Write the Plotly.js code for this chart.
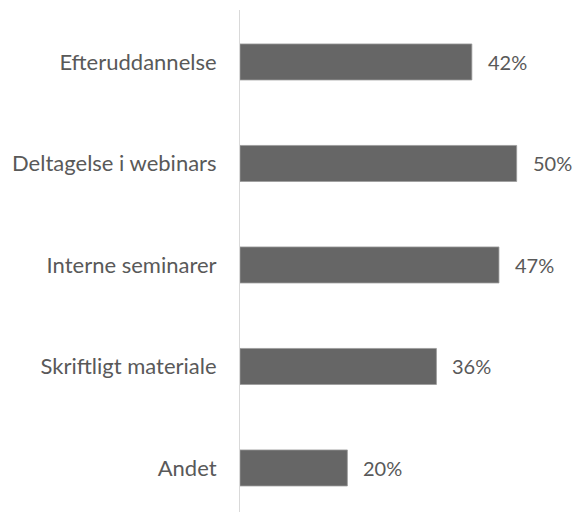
<!DOCTYPE html>
<html>
<head>
<meta charset="utf-8">
<script src="https://cdn.plot.ly/plotly-3.0.1.min.js"></script>
<style>html,body{margin:0;padding:0;background:#fff;}#chart{width:578px;height:512px;}</style>
</head>
<body>
<div id="chart"></div>
<script>
var categories = ["Efteruddannelse", "Deltagelse i webinars", "Interne seminarer", "Skriftligt materiale", "Andet"];
var values = [0.419, 0.50, 0.468, 0.355, 0.194];
var valueLabels = ["42%", "50%", "47%", "36%", "20%"];

var FONT = "Lato, 'Open Sans', sans-serif";
var TXT = "#595959";

var trace = {
  type: "bar",
  orientation: "h",
  y: categories,
  x: values,
  width: 0.355,
  marker: {color: "#666666", line: {color: "#9a9a9a", width: 0.8}},
  hoverinfo: "none"
};

var annotations = categories.map(function (c, i) {
  return {
    x: values[i], y: c, xref: "x", yref: "y",
    text: valueLabels[i], showarrow: false,
    xanchor: "left", yanchor: "middle", xshift: 14,
    font: {family: FONT, size: 20, color: TXT}
  };
});

var layout = {
  width: 578, height: 512,
  margin: {l: 240, r: 6, t: 10, b: 0, pad: 0},
  paper_bgcolor: "#fff", plot_bgcolor: "#fff",
  showlegend: false,
  xaxis: {range: [0, 0.6], visible: false, fixedrange: true},
  yaxis: {
    type: "category",
    range: [4.434, -0.512],
    showline: true, linecolor: "#d9d9d9", linewidth: 1,
    showgrid: false, zeroline: false,
    ticks: "outside", ticklen: 18, tickcolor: "rgba(0,0,0,0)",
    tickfont: {family: FONT, size: 22, color: TXT},
    fixedrange: true
  },
  annotations: annotations
};

Plotly.newPlot("chart", [trace], layout, {displayModeBar: false, staticPlot: true});
</script>
</body>
</html>
